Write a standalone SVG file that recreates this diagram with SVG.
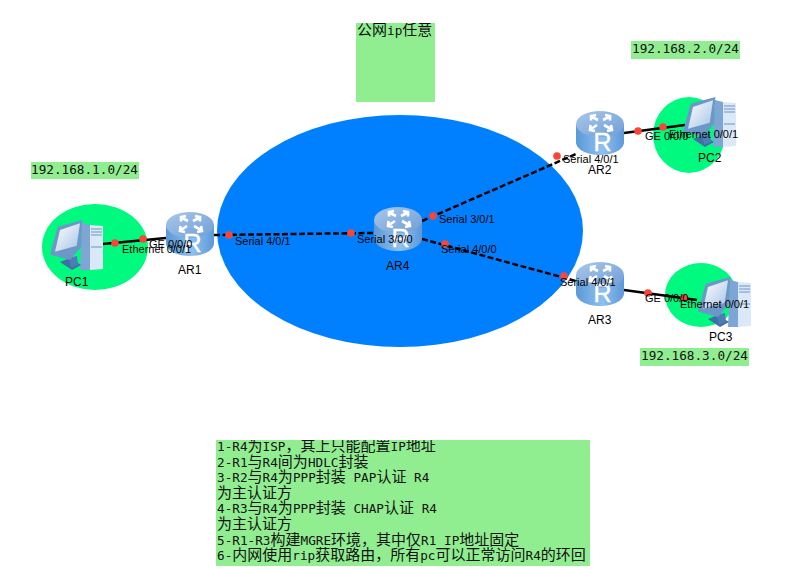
<svg xmlns="http://www.w3.org/2000/svg" width="798" height="569" viewBox="0 0 798 569">
<style>
text{font-family:"Liberation Sans",Arial,sans-serif;fill:#000}
.p{font-size:11px}
.n{font-size:12px}
.r{font-size:25px;fill:#fff;stroke:#fff;stroke-width:.4;text-anchor:middle}
.m{font-family:"DejaVu Sans Mono","Noto Sans CJK SC",monospace;font-size:12.7px;fill:#111}
.c{font-family:"Noto Sans CJK SC","DejaVu Sans Mono",sans-serif;font-size:15px}
.lb{fill:#90ee90}
.g{fill:#00fa7f}
.s{stroke:#000;stroke-width:2.5;fill:none}
.d{stroke:#000;stroke-width:2.5;fill:none;stroke-dasharray:6 2.500}
.dot{fill:#fb4537}
</style>
<defs>
<linearGradient id="rb" x1="0" x2="1" y1="0" y2="0">
<stop offset="0" stop-color="#5b98d8"/><stop offset=".55" stop-color="#8fc0ee"/><stop offset="1" stop-color="#5c98d8"/>
</linearGradient>
<linearGradient id="rt" x1="0" x2="1" y1="0" y2="1">
<stop offset="0" stop-color="#a9c7ea"/><stop offset="1" stop-color="#6f9ed6"/>
</linearGradient>
<linearGradient id="scr" x1="0" x2="1" y1="0" y2="1">
<stop offset="0" stop-color="#ffffff"/><stop offset="1" stop-color="#a5c3e6"/>
</linearGradient>
<symbol id="router" width="48" height="44" viewBox="0 0 48 44" overflow="visible">
<path d="M0 13V31C0 38.500 10.700 44 24 44S48 38.500 48 31V13Z" fill="url(#rb)"/>
<ellipse cx="24" cy="13" rx="24" ry="13" fill="url(#rt)"/>
<g fill="none" stroke="#fff" stroke-width="2.600">
<path d="M22 9 16 6M15 9.500 15 5 20 4"/>
<path d="M27 9 33 6M29 4 34 5 34 9.500"/>
<path d="M21 14 15 18M14.500 14 14 19 19 20"/>
<path d="M28 14 35 18M31 20 36 19 35 14"/>
</g>
</symbol>
<symbol id="pc" width="53" height="50" viewBox="0 0 53 50" overflow="visible">
<path d="M32 3 40 5V50H30Z" fill="#7ea6d4"/>
<path d="M40 5 53 6V49L40 50Z" fill="#dbe8f7"/>
<path d="M41 9H52M41 12H52M41 15H52M41 27H52" stroke="#6f94c2" stroke-width="1" fill="none"/>
<path d="M10 42 20 38 31 45 22 50Z" fill="#3f6fa8"/>
<path d="M19 38 27 36 28 45 21 48Z" fill="#4d7db5"/>
<path d="M7.700 6.700 32.300 0 31 27 20 40 0 34.500Z" fill="#6d97c9"/>
<path d="M10 10 30 3.300 26.700 25.700 5 31.700Z" fill="url(#scr)"/>
</symbol>
<clipPath id="c1"><rect x="216" y="440" width="374" height="126"/></clipPath>
<clipPath id="c2"><rect x="356" y="23" width="79" height="79"/></clipPath>
</defs>

<g id="backgrounds">
<ellipse cx="400" cy="231" rx="183" ry="116" fill="#0080ff"/>
<ellipse class="g" cx="95" cy="247" rx="53" ry="43"/>
<ellipse class="g" cx="689" cy="135" rx="36" ry="38"/>
<ellipse class="g" cx="701" cy="295" rx="36" ry="32"/>
</g>

<g id="note-public">
<rect class="lb" x="356" y="23" width="79" height="79"/>
<text class="m" x="357" y="35" clip-path="url(#c2)"><tspan class="c">公网</tspan>ip<tspan class="c">任意</tspan></text>
</g>
<g id="net1"><rect class="lb" x="31" y="162" width="108" height="17"/><text class="m" x="31" y="174">192.168.1.0/24</text></g>
<g id="net2"><rect class="lb" x="631" y="41" width="109" height="18"/><text class="m" x="632" y="53">192.168.2.0/24</text></g>
<g id="net3"><rect class="lb" x="640" y="348" width="109" height="18"/><text class="m" x="641" y="360">192.168.3.0/24</text></g>

<g id="connectors">
<path class="s" d="M103 244 166 238"/>
<path class="d" d="M214 235 374 233"/>
<path class="d" d="M422 221 576 154"/>
<path class="d" d="M422 239 576 281"/>
<path class="s" d="M624 133 685 125"/>
<path class="s" d="M624 290 697 300"/>
<g class="dot">
<circle cx="115" cy="243" r="3.800"/><circle cx="143" cy="239" r="3.800"/>
<circle cx="229" cy="235" r="3.800"/><circle cx="351" cy="233" r="3.800"/>
<circle cx="433" cy="216" r="3.800"/><circle cx="445" cy="244" r="3.800"/>
<circle cx="557" cy="156" r="3.800"/><circle cx="564" cy="276" r="3.800"/>
<circle cx="638" cy="131" r="3.800"/><circle cx="663" cy="127" r="3.800"/>
<circle cx="648" cy="293" r="3.800"/><circle cx="684" cy="298" r="3.800"/>
</g>
</g>

<g id="PC1"><use href="#pc" x="50" y="220"/><text class="n" x="65" y="286">PC1</text></g>
<g id="AR1"><use href="#router" x="166" y="212"/><text class="r" x="192.500" y="252">R</text><text class="n" x="178" y="274">AR1</text></g>
<g id="AR4"><use href="#router" x="374" y="207"/><text class="r" x="400.500" y="247">R</text><text class="n" x="386" y="270">AR4</text></g>
<g id="AR2"><use href="#router" x="576" y="111"/><text class="r" x="602.500" y="151">R</text><text class="n" x="588" y="174">AR2</text></g>
<g id="AR3"><use href="#router" x="576" y="262"/><text class="r" x="602.500" y="302">R</text><text class="n" x="588" y="324">AR3</text></g>
<g id="PC2"><use href="#pc" x="683" y="97"/><text class="n" x="698" y="162">PC2</text></g>
<g id="PC3"><use href="#pc" x="698" y="277"/><text class="n" x="709" y="341">PC3</text></g>

<g id="port-labels">
<text class="p" x="149" y="248">GE 0/0/0</text>
<text class="p" x="122" y="253">Ethernet 0/0/1</text>
<text class="p" x="235" y="245">Serial 4/0/1</text>
<text class="p" x="357" y="243">Serial 3/0/0</text>
<text class="p" x="439" y="223">Serial 3/0/1</text>
<text class="p" x="441" y="253">Serial 4/0/0</text>
<text class="p" x="563" y="163">Serial 4/0/1</text>
<text class="p" x="645" y="140">GE 0/0/0</text>
<text class="p" x="669" y="138">Ethernet 0/0/1</text>
<text class="p" x="560" y="286">Serial 4/0/1</text>
<text class="p" x="645" y="302">GE 0/0/0</text>
<text class="p" x="680" y="308">Ethernet 0/0/1</text>
</g>

<g id="note-tasks">
<rect class="lb" x="216" y="440" width="374" height="126"/>
<g clip-path="url(#c1)">
<text class="m" x="217" y="451">1-R4<tspan class="c">为</tspan>ISP<tspan class="c">，其上只能配置</tspan>IP<tspan class="c">地址</tspan></text>
<text class="m" x="217" y="466.600">2-R1<tspan class="c">与</tspan>R4<tspan class="c">间为</tspan>HDLC<tspan class="c">封装</tspan></text>
<text class="m" x="217" y="482.200">3-R2<tspan class="c">与</tspan>R4<tspan class="c">为</tspan>PPP<tspan class="c">封装</tspan> PAP<tspan class="c">认证</tspan> R4</text>
<text class="m" x="217" y="497.800"><tspan class="c">为主认证方</tspan></text>
<text class="m" x="217" y="513.400">4-R3<tspan class="c">与</tspan>R4<tspan class="c">为</tspan>PPP<tspan class="c">封装</tspan> CHAP<tspan class="c">认证</tspan> R4</text>
<text class="m" x="217" y="529"><tspan class="c">为主认证方</tspan></text>
<text class="m" x="217" y="544.600">5-R1-R3<tspan class="c">构建</tspan>MGRE<tspan class="c">环境，其中仅</tspan>R1 IP<tspan class="c">地址固定</tspan></text>
<text class="m" x="217" y="560.200">6-<tspan class="c">内网使用</tspan>rip<tspan class="c">获取路由，所有</tspan>pc<tspan class="c">可以正常访问</tspan>R4<tspan class="c">的环回</tspan></text>
</g>
</g>
</svg>
